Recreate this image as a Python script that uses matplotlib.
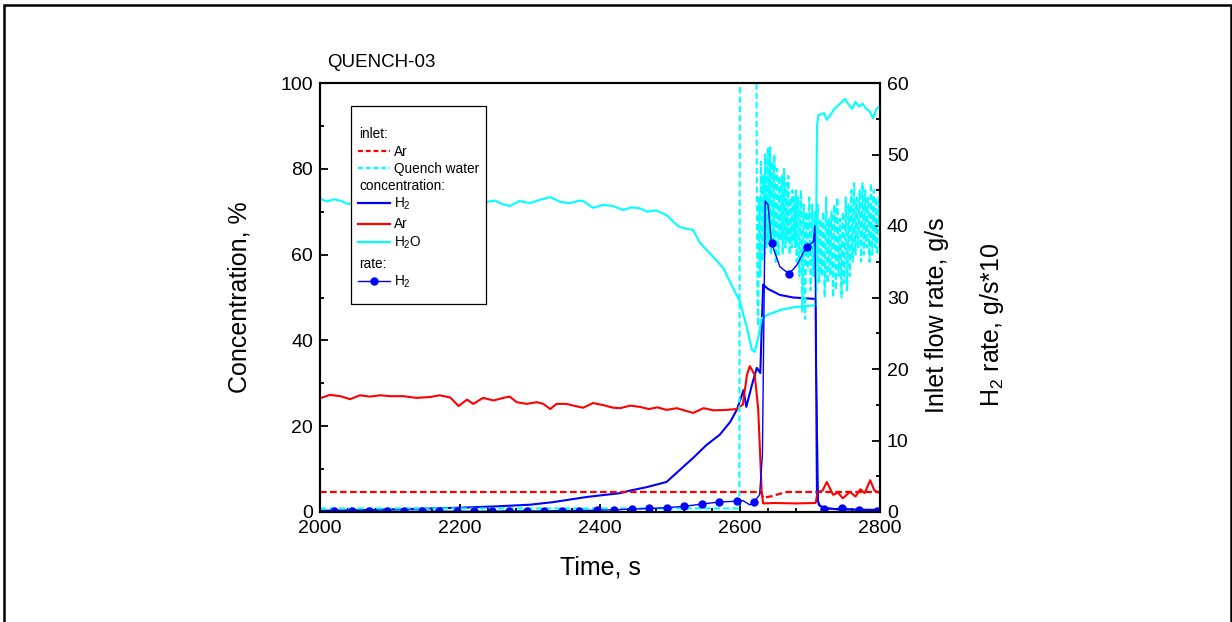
import matplotlib.pyplot as plt
from matplotlib.ticker import MultipleLocator
from matplotlib.patches import Rectangle

plt.rcParams['font.family'] = 'Liberation Sans'
plt.rcParams['mathtext.fontset'] = 'custom'
plt.rcParams['mathtext.rm'] = 'Liberation Sans'
plt.rcParams['mathtext.it'] = 'Liberation Sans:italic'

# concentrations, %
h2_t = [2000, 2050, 2100, 2150, 2200, 2250, 2300, 2333, 2381, 2429, 2443, 2467, 2495,
        2514, 2533, 2552, 2571, 2586, 2596, 2605, 2609, 2617, 2624, 2629, 2633, 2640,
        2657, 2676, 2705, 2708, 2710, 2714, 2720, 2740, 2800]
h2_v = [0.3, 0.4, 0.6, 0.8, 1.0, 1.3, 1.7, 2.3, 3.5, 4.4, 5.0, 5.8, 7.0,
        9.8, 12.6, 15.6, 18.0, 21.0, 24.0, 28.4, 24.5, 29.6, 33.6, 32.4, 53.0, 52.0,
        50.6, 50.0, 49.7, 49.7, 3.0, 1.5, 1.0, 0.6, 0.5]

ar_t = [2000, 2014, 2029, 2043, 2057, 2071, 2086, 2100, 2119, 2138, 2157, 2171, 2186,
        2198, 2210, 2219, 2233, 2248, 2262, 2271, 2281, 2295, 2310, 2319, 2329, 2338,
        2352, 2362, 2376, 2390, 2405, 2419, 2429, 2443, 2457, 2470, 2482, 2495, 2510,
        2522, 2533, 2548, 2562, 2581, 2595, 2604, 2610, 2614, 2621, 2626, 2631, 2633,
        2650, 2680, 2708, 2711, 2718, 2724, 2733, 2740, 2747, 2757, 2765, 2772, 2778,
        2786, 2792, 2800]
ar_v = [26.5, 27.3, 27.0, 26.3, 27.2, 26.9, 27.2, 27.0, 27.0, 26.6, 26.8, 27.2, 26.7,
        24.7, 26.2, 25.2, 26.6, 26.0, 26.6, 26.9, 25.6, 25.2, 25.6, 25.2, 24.0, 25.2,
        25.2, 24.8, 24.3, 25.4, 24.9, 24.3, 24.2, 24.8, 24.5, 24.0, 24.4, 23.8, 24.2,
        23.6, 23.1, 24.2, 23.7, 23.8, 24.0, 25.0, 32.0, 34.0, 32.0, 24.0, 4.7, 2.0,
        2.1, 2.0, 2.1, 4.6, 5.0, 7.0, 4.0, 4.5, 3.2, 4.7, 3.6, 5.3, 4.4,
        7.4, 5.0, 4.4]

h2o_t = [2000, 2010, 2020, 2030, 2040, 2060, 2100, 2150, 2200, 2239, 2250, 2260, 2271,
         2285, 2300, 2315, 2329, 2343, 2357, 2371, 2376, 2390, 2405, 2419, 2433, 2445,
         2457, 2467, 2480, 2495, 2505, 2514, 2533, 2543, 2562, 2576, 2590, 2600, 2610,
         2617, 2621, 2626, 2631, 2640, 2660, 2680, 2708, 2710, 2712, 2720, 2724, 2735,
         2745, 2750, 2755, 2760, 2765, 2770, 2775, 2780, 2785, 2790, 2795, 2800]
h2o_v = [73.0, 72.4, 72.9, 72.5, 71.8, 72.5, 72.5, 72.5, 72.5, 72.3, 72.6, 71.8, 71.3,
         72.5, 72.0, 72.8, 73.4, 72.3, 72.0, 72.6, 72.5, 70.9, 71.6, 71.3, 70.4, 71.0,
         70.8, 70.0, 70.3, 69.2, 67.6, 66.4, 65.7, 62.7, 59.4, 56.9, 52.2, 49.0, 42.9,
         37.8, 37.3, 40.6, 45.2, 46.0, 47.2, 47.8, 48.2, 90.0, 92.5, 93.0, 91.4, 94.0,
         95.5, 96.3, 95.0, 94.0, 95.6, 94.5, 95.2, 94.0, 93.5, 91.8, 94.0, 94.5]

# inlet flow rates, g/s
ar_in_t = [2000, 2630, 2633, 2645, 2655, 2667, 2800]
ar_in_v = [2.8, 2.8, 2.0, 2.2, 2.5, 2.8, 2.8]

qw_t = [2000, 2599, 2600, 2623] + list(range(2624, 2801))
qw_v = [0.5, 0.5, 75, 75,
        # 2624-2640
        47, 30, 26, 44, 38, 33, 49, 41, 35, 47, 44, 36, 50, 42, 37, 48, 51,
        # 2641-2660
        38, 45, 51, 36, 42, 49, 44, 37, 50, 46, 35, 41, 48, 39, 36, 47, 43, 38, 45, 47,
        # 2661-2680
        36, 42, 48, 40, 37, 46, 43, 38, 47, 41, 36, 44, 40, 37, 45, 42, 38, 44, 37, 45,
        # 2681-2700
        35, 41, 44, 36, 33, 42, 45, 38, 28, 36, 43, 39, 27, 34, 42, 38, 34, 40, 44, 37,
        # 2701-2720
        31, 38, 43, 36, 33, 40, 42, 35, 31, 39, 43, 36, 32, 38, 41, 34, 33, 40, 42, 36,
        # 2721-2760
        30, 37, 44, 39, 32, 36, 41, 35, 33, 40, 42, 34, 30, 38, 43, 37, 31, 36, 44, 40,
        33, 37, 41, 35, 30, 39, 42, 36, 32, 38, 44, 39, 31, 35, 43, 38, 33, 40, 45, 37,
        # 2761-2800
        35, 41, 46, 39, 36, 43, 44, 38, 37, 42, 45, 40, 35, 39, 46, 41, 36, 40, 45, 38,
        37, 43, 44, 39, 35, 41, 46, 40, 36, 42, 45, 38, 37, 44, 41, 36, 39, 44, 40, 42]

# H2 release rate, g/s*10
rate_t = [2000, 2020, 2045, 2070, 2095, 2120, 2145, 2170, 2195, 2220, 2245, 2270, 2295,
          2320, 2345, 2370, 2395, 2420, 2445, 2470, 2495, 2520, 2545, 2570, 2595, 2604,
          2614, 2620, 2628, 2632, 2636, 2640, 2643, 2645, 2657, 2670, 2681, 2695, 2705,
          2707, 2709, 2712, 2720, 2745, 2770, 2795, 2800]
rate_v = [0.1, 0.1, 0.1, 0.1, 0.1, 0.1, 0.1, 0.1, 0.1, 0.1, 0.1, 0.15, 0.15,
          0.15, 0.2, 0.2, 0.25, 0.3, 0.4, 0.5, 0.6, 0.8, 1.1, 1.4, 1.5, 1.6,
          1.0, 1.4, 2.4, 8.0, 43.5, 43.0, 39.7, 37.6, 34.3, 33.3, 34.5, 37.1, 37.8,
          40.0, 20.0, 1.0, 0.4, 0.5, 0.3, 0.2, 0.2]
rate_marks = [i for i, t in enumerate(rate_t) if t >= 2020 and (t - 2020) % 25 == 0]

BLUE = '#0000ff'
RED = '#ff0000'
CYAN = '#00ffff'
W, H = 1232, 622

fig = plt.figure(figsize=(W / 100, H / 100), dpi=100)
ax = fig.add_axes([320 / W, 1 - 512 / H, 560 / W, 429 / H])
ax2 = ax.twinx()

ax.plot(h2_t, h2_v, color=BLUE, lw=1.5)
ax.plot(ar_t, ar_v, color=RED, lw=1.5)
ax.plot(h2o_t, h2o_v, color=CYAN, lw=1.5)

ax2.plot(ar_in_t, ar_in_v, color=RED, lw=1.6, ls='--', dashes=(3, 1.5))
ax2.plot(qw_t, qw_v, color=CYAN, lw=1.5, ls='--', dashes=(3, 1.5))
ax2.plot(rate_t, rate_v, color=BLUE, lw=1.0, marker='o', ms=5,
         markevery=rate_marks)

ax.set_xlim(2000, 2800)
ax.set_ylim(0, 100)
ax2.set_ylim(0, 60)
ax.xaxis.set_major_locator(MultipleLocator(200))
ax.xaxis.set_minor_locator(MultipleLocator(40))
ax.yaxis.set_major_locator(MultipleLocator(20))
ax.yaxis.set_minor_locator(MultipleLocator(10))
ax2.yaxis.set_major_locator(MultipleLocator(10))
ax2.yaxis.set_minor_locator(MultipleLocator(5))

for a in (ax, ax2):
    a.tick_params(which='both', direction='in', labelsize=14, width=1.3, pad=5)
    a.tick_params(which='major', length=6)
    a.tick_params(which='minor', length=3)
    for s in a.spines.values():
        s.set_linewidth(1.5)
ax.tick_params(axis='x', pad=6)

ax.text(0.0125, 1.037, 'QUENCH-03', transform=ax.transAxes, fontsize=13.5,
        va='baseline', ha='left')

fig.text(239 / W, 1 - 297 / H, 'Concentration, %', rotation=90, fontsize=18,
         ha='center', va='center')
fig.text(600 / W, 1 - 567 / H, 'Time, s', fontsize=18, ha='center', va='center')
fig.text(937 / W, 1 - 315 / H, 'Inlet flow rate, g/s', rotation=90, fontsize=18,
         ha='center', va='center')
fig.text(992 / W, 1 - 325 / H, r'H$_\mathregular{2}$ rate, g/s*10', rotation=90,
         fontsize=18, ha='center', va='center')

# legend box with section headers
def fx(px):
    return (px - 320) / 560

def fy(py):
    return (512 - py) / 429

ax2.add_patch(Rectangle((fx(351), fy(304)), fx(486) - fx(351), fy(106) - fy(304),
                        transform=ax2.transAxes, facecolor='white',
                        edgecolor='black', lw=0.9, zorder=10, clip_on=False))
entries = [
    ('inlet:', None, 133),
    ('Ar', dict(color=RED, lw=1.6, ls='--', dashes=(2.2, 1.3)), 151),
    ('Quench water', dict(color=CYAN, lw=1.6, ls='--', dashes=(2.2, 1.3)), 168),
    ('concentration:', None, 186),
    (r'H$_\mathregular{2}$', dict(color=BLUE, lw=1.6), 203),
    ('Ar', dict(color=RED, lw=1.6), 224),
    (r'H$_\mathregular{2}$O', dict(color=CYAN, lw=1.6), 242),
    ('rate:', None, 264),
    (r'H$_\mathregular{2}$', dict(color=BLUE, lw=1.0, marker='o', ms=5,
                                  markevery=[1]), 281),
]
for label, style, py in entries:
    if style is None:
        ax2.text(fx(359), fy(py + 4.5), label, transform=ax2.transAxes,
                 fontsize=9.8, va='baseline', ha='left', zorder=11)
        continue
    ax2.plot([fx(358), fx(374), fx(390)], [fy(py)] * 3, transform=ax2.transAxes,
             clip_on=False, zorder=11, **style)
    ax2.text(fx(394), fy(py + 4.5), label, transform=ax2.transAxes,
             fontsize=9.8, va='baseline', ha='left', zorder=11)

fig.add_artist(Rectangle((4 / W, -0.05), (1231 - 4) / W, 1.05 - 5 / H,
                         transform=fig.transFigure, fill=False,
                         edgecolor='black', lw=1.8))

fig.savefig('out.png', dpi=100)
